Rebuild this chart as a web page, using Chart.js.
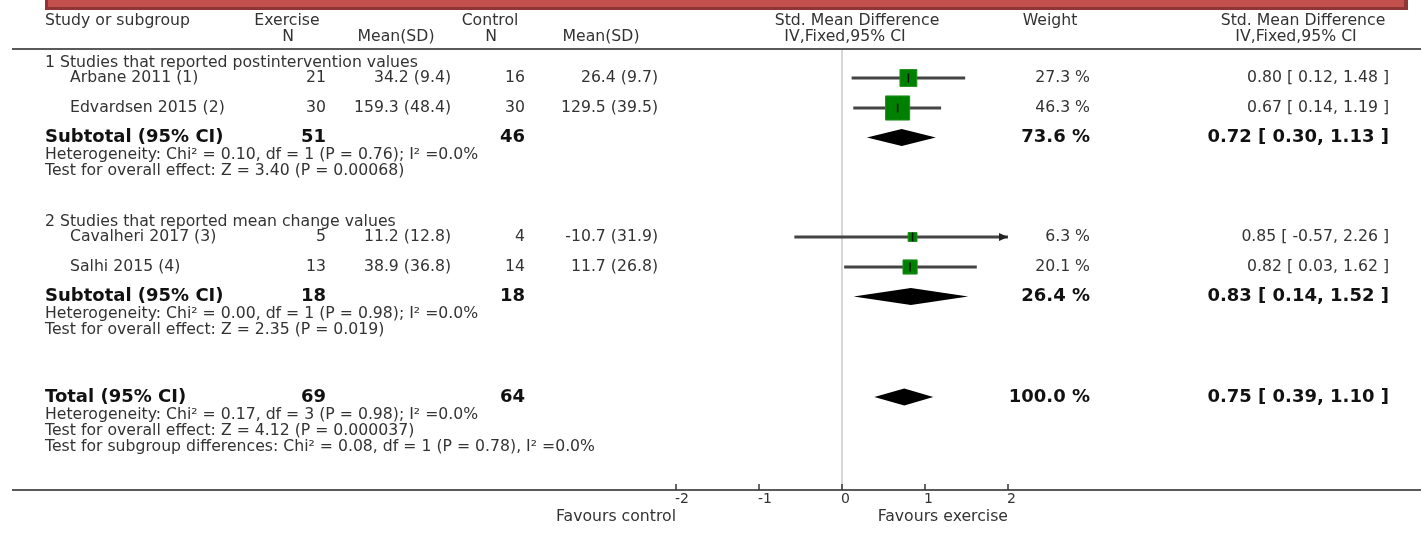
<!DOCTYPE html>
<html>
<head>
<meta charset="utf-8">
<title>Forest plot - Exercise vs Control</title>
<script src="https://cdn.jsdelivr.net/npm/chart.js@4.4.1/dist/chart.umd.min.js"></script>
<style>
  html, body { margin: 0; padding: 0; background: #fff; }
  #wrap { width: 1421px; height: 533px; position: relative; }
</style>
</head>
<body>
<div id="wrap"><canvas id="forest"></canvas></div>
<script>
// Datos del gráfico
const groups = ['1 Studies that reported postintervention values', '2 Studies that reported mean change values'];
const studies = ['Arbane 2011 (1)', 'Edvardsen 2015 (2)', 'Cavalheri 2017 (3)', 'Salhi 2015 (4)'];
const studyGroup = [0, 0, 1, 1];
const exN = [21, 30, 5, 13];
const exMean = [34.2, 159.3, 11.2, 38.9];
const exSD = [9.4, 48.4, 12.8, 36.8];
const ctN = [16, 30, 4, 14];
const ctMean = [26.4, 129.5, -10.7, 11.7];
const ctSD = [9.7, 39.5, 31.9, 26.8];
const weight = [27.3, 46.3, 6.3, 20.1];
const smd = [0.80, 0.67, 0.85, 0.82];
const smdLo = [0.12, 0.14, -0.57, 0.03];
const smdHi = [1.48, 1.19, 2.26, 1.62];

const subExN = [51, 18];
const subCtN = [46, 18];
const subWeight = [73.6, 26.4];
const subSmd = [0.72, 0.83];
const subLo = [0.30, 0.14];
const subHi = [1.13, 1.52];
const subHet = ['Heterogeneity: Chi² = 0.10, df = 1 (P = 0.76); I² =0.0%', 'Heterogeneity: Chi² = 0.00, df = 1 (P = 0.98); I² =0.0%'];
const subTest = ['Test for overall effect: Z = 3.40 (P = 0.00068)', 'Test for overall effect: Z = 2.35 (P = 0.019)'];

const totalExN = 69;
const totalCtN = 64;
const totalWeight = 100.0;
const totalSmd = 0.75;
const totalLo = 0.39;
const totalHi = 1.10;
const totalNotes = [
  'Heterogeneity: Chi² = 0.17, df = 3 (P = 0.98); I² =0.0%',
  'Test for overall effect: Z = 4.12 (P = 0.000037)',
  'Test for subgroup differences: Chi² = 0.08, df = 1 (P = 0.78), I² =0.0%'
];

const xTicks = [-2, -1, 0, 1, 2];
const favoursLeft = 'Favours control';
const favoursRight = 'Favours exercise';

// Estilo / maquetación
const FONT = '"DejaVu Sans", Verdana, sans-serif';
const TXT = '#333';
const BOLD = '#111';
const FS = 15.7;
const FB = 18;
const COL = { name: 45, study: 70, exN: 326, exMean: 451, ctN: 525, ctMean: 658, weight: 1090, ci: 1389 };
const HEAD_Y1 = 21, HEAD_Y2 = 37, RULE_Y = 49;

// Posiciones verticales de cada fila (en unidades del eje y)
function buildRows() {
  const rows = { heading: [], study: [], subtotal: [], subNotes: [], total: 0, totalNotes: [] };
  let y = 63;
  groups.forEach((g, gi) => {
    if (gi > 0) y += 51;
    rows.heading.push(y);
    let first = true;
    studies.forEach((s, i) => {
      if (studyGroup[i] !== gi) return;
      y += first ? 15 : 30;
      first = false;
      rows.study[i] = y;
    });
    y += 29.5;
    rows.subtotal.push(y);
    y += 17.5;
    const het = y;
    y += 16;
    rows.subNotes.push([het, y]);
  });
  y += 67;
  rows.total = y;
  y += 17.5;
  totalNotes.forEach((n, i) => {
    rows.totalNotes.push(y);
    y += 16;
  });
  return rows;
}
const rows = buildRows();

const fmt1 = v => v.toFixed(1);
const fmtMean = (m, sd) => `${fmt1(m)} (${fmt1(sd)})`;
const fmtCI = (e, l, h) => `${e.toFixed(2)} [ ${l.toFixed(2)}, ${h.toFixed(2)} ]`;
const squareSide = w => 6.5 + 0.38 * w;

function text(ctx, str, x, y, align, bold, size, color) {
  ctx.font = `${bold ? 'bold ' : ''}${size}px ${FONT}`;
  ctx.fillStyle = color || (bold ? BOLD : TXT);
  ctx.textAlign = align;
  ctx.textBaseline = 'middle';
  ctx.fillText(str, x, y);
}

// Fondo: barra roja superior, líneas, eje y línea del cero
const framePlugin = {
  id: 'frame',
  beforeDatasetsDraw(chart) {
    const { ctx, scales: { x } } = chart;
    ctx.save();
    // barra roja
    ctx.fillStyle = '#8f3535';
    ctx.fillRect(45, 0, 1363, 10);
    ctx.fillStyle = '#c4504e';
    ctx.fillRect(48, 0, 1356, 7);

    ctx.strokeStyle = '#5a5a5a';
    ctx.lineWidth = 2;
    ctx.beginPath();
    ctx.moveTo(12, RULE_Y); ctx.lineTo(chart.width, RULE_Y);
    ctx.stroke();

    const axisY = chart.chartArea.bottom;
    ctx.beginPath();
    ctx.moveTo(12, axisY); ctx.lineTo(chart.width, axisY);
    ctx.stroke();

    // línea del cero
    const x0 = x.getPixelForValue(0);
    ctx.strokeStyle = '#c8c8c8';
    ctx.lineWidth = 1.5;
    ctx.beginPath();
    ctx.moveTo(x0, RULE_Y + 1); ctx.lineTo(x0, axisY - 1);
    ctx.stroke();

    // marcas del eje
    ctx.strokeStyle = '#333';
    ctx.lineWidth = 1.5;
    xTicks.forEach(t => {
      const px = x.getPixelForValue(t);
      ctx.beginPath();
      ctx.moveTo(px, axisY); ctx.lineTo(px, axisY - 6);
      ctx.stroke();
      text(ctx, String(t), px - 1, axisY + 9, 'left', false, 14);
    });
    text(ctx, favoursLeft, x.getPixelForValue(xTicks[0]), axisY + 27, 'right', false, FS);
    text(ctx, favoursRight, x.getPixelForValue(xTicks[xTicks.length - 1]), axisY + 27, 'right', false, FS);
    ctx.restore();
  },
  afterDatasetsDraw(chart) {
    const { ctx, scales: { x, y } } = chart;
    ctx.save();
    // rombos de subtotales y total
    const diamond = (e, l, h, row) => {
      const py = y.getPixelForValue(row);
      ctx.beginPath();
      ctx.moveTo(x.getPixelForValue(l), py);
      ctx.lineTo(x.getPixelForValue(e), py - 8.5);
      ctx.lineTo(x.getPixelForValue(h), py);
      ctx.lineTo(x.getPixelForValue(e), py + 8.5);
      ctx.closePath();
      ctx.fill();
    };
    ctx.fillStyle = '#000';
    subSmd.forEach((e, i) => diamond(e, subLo[i], subHi[i], rows.subtotal[i]));
    diamond(totalSmd, totalLo, totalHi, rows.total);

    // flechas para IC fuera de rango
    ctx.fillStyle = '#222';
    studies.forEach((s, i) => {
      const py = y.getPixelForValue(rows.study[i]);
      if (smdHi[i] > x.max) {
        const tip = x.getPixelForValue(x.max);
        ctx.beginPath();
        ctx.moveTo(tip, py); ctx.lineTo(tip - 9, py - 4); ctx.lineTo(tip - 9, py + 4);
        ctx.closePath(); ctx.fill();
      }
      if (smdLo[i] < x.min) {
        const tip = x.getPixelForValue(x.min);
        ctx.beginPath();
        ctx.moveTo(tip, py); ctx.lineTo(tip + 9, py - 4); ctx.lineTo(tip + 9, py + 4);
        ctx.closePath(); ctx.fill();
      }
    });
    ctx.restore();
  },
  afterDraw(chart) {
    const { ctx } = chart;
    ctx.save();
    // cabecera
    text(ctx, 'Study or subgroup', COL.name, HEAD_Y1, 'left', false, FS);
    text(ctx, 'Exercise', 287, HEAD_Y1, 'center', false, FS);
    text(ctx, 'N', 288, HEAD_Y2, 'center', false, FS);
    text(ctx, 'Mean(SD)', 396, HEAD_Y2, 'center', false, FS);
    text(ctx, 'Control', 490, HEAD_Y1, 'center', false, FS);
    text(ctx, 'N', 491, HEAD_Y2, 'center', false, FS);
    text(ctx, 'Mean(SD)', 601, HEAD_Y2, 'center', false, FS);
    text(ctx, 'Std. Mean Difference', 857, HEAD_Y1, 'center', false, FS);
    text(ctx, 'IV,Fixed,95% CI', 845, HEAD_Y2, 'center', false, FS);
    text(ctx, 'Weight', 1050, HEAD_Y1, 'center', false, FS);
    text(ctx, 'Std. Mean Difference', 1303, HEAD_Y1, 'center', false, FS);
    text(ctx, 'IV,Fixed,95% CI', 1296, HEAD_Y2, 'center', false, FS);

    groups.forEach((g, gi) => {
      text(ctx, g, COL.name, rows.heading[gi], 'left', false, FS);
      studies.forEach((s, i) => {
        if (studyGroup[i] !== gi) return;
        const ry = rows.study[i];
        text(ctx, s, COL.study, ry, 'left', false, FS);
        text(ctx, String(exN[i]), COL.exN, ry, 'right', false, FS);
        text(ctx, fmtMean(exMean[i], exSD[i]), COL.exMean, ry, 'right', false, FS);
        text(ctx, String(ctN[i]), COL.ctN, ry, 'right', false, FS);
        text(ctx, fmtMean(ctMean[i], ctSD[i]), COL.ctMean, ry, 'right', false, FS);
        text(ctx, fmt1(weight[i]) + ' %', COL.weight, ry, 'right', false, FS);
        text(ctx, fmtCI(smd[i], smdLo[i], smdHi[i]), COL.ci, ry, 'right', false, FS);
      });
      const sy = rows.subtotal[gi];
      text(ctx, 'Subtotal (95% CI)', COL.name, sy, 'left', true, FB);
      text(ctx, String(subExN[gi]), COL.exN, sy, 'right', true, FB);
      text(ctx, String(subCtN[gi]), COL.ctN, sy, 'right', true, FB);
      text(ctx, fmt1(subWeight[gi]) + ' %', COL.weight, sy, 'right', true, FB);
      text(ctx, fmtCI(subSmd[gi], subLo[gi], subHi[gi]), COL.ci, sy, 'right', true, FB);
      text(ctx, subHet[gi], COL.name, rows.subNotes[gi][0], 'left', false, FS);
      text(ctx, subTest[gi], COL.name, rows.subNotes[gi][1], 'left', false, FS);
    });

    text(ctx, 'Total (95% CI)', COL.name, rows.total, 'left', true, FB);
    text(ctx, String(totalExN), COL.exN, rows.total, 'right', true, FB);
    text(ctx, String(totalCtN), COL.ctN, rows.total, 'right', true, FB);
    text(ctx, fmt1(totalWeight) + ' %', COL.weight, rows.total, 'right', true, FB);
    text(ctx, fmtCI(totalSmd, totalLo, totalHi), COL.ci, rows.total, 'right', true, FB);
    totalNotes.forEach((n, i) => text(ctx, n, COL.name, rows.totalNotes[i], 'left', false, FS));
    ctx.restore();
  }
};

const ctx = document.getElementById('forest').getContext('2d');
const forest = new Chart(ctx, {
  type: 'bar',
  data: {
    datasets: [
      {
        // intervalos de confianza
        type: 'bar',
        indexAxis: 'y',
        data: studies.map((s, i) => ({ x: [smdLo[i], smdHi[i]], y: rows.study[i] })),
        backgroundColor: '#444',
        barThickness: 2.5,
        borderSkipped: false,
        order: 3
      },
      {
        // cuadrados con peso
        type: 'scatter',
        data: studies.map((s, i) => ({ x: smd[i], y: rows.study[i] })),
        pointStyle: 'rect',
        pointRadius: weight.map(w => squareSide(w) * Math.SQRT1_2),
        backgroundColor: '#008000',
        borderColor: '#1f8f1f',
        borderWidth: 1,
        order: 2
      },
      {
        // marca del estimador puntual
        type: 'scatter',
        data: studies.map((s, i) => ({ x: smd[i], y: rows.study[i] })),
        pointStyle: 'line',
        rotation: 90,
        pointRadius: 4.5,
        borderColor: '#111',
        borderWidth: 1.5,
        order: 1
      }
    ]
  },
  options: {
    responsive: true,
    maintainAspectRatio: false,
    devicePixelRatio: 1,
    animation: false,
    events: [],
    layout: { autoPadding: false, padding: { left: 676, right: 413, top: 0, bottom: 43 } },
    plugins: { legend: { display: false }, tooltip: { enabled: false } },
    scales: {
      x: { type: 'linear', min: xTicks[0], max: xTicks[xTicks.length - 1], offset: false, grace: 0, display: false },
      y: { type: 'linear', min: 0, max: 490, reverse: true, offset: false, grace: 0, display: false }
    }
  },
  plugins: [framePlugin]
});
</script>
</body>
</html>
